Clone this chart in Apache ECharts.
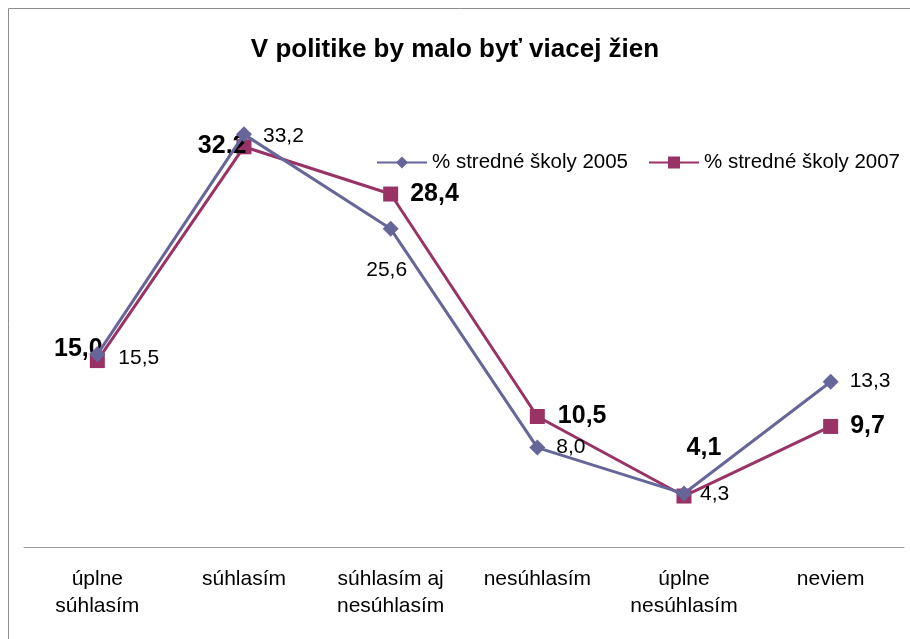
<!DOCTYPE html>
<html>
<head>
<meta charset="utf-8">
<script src="https://cdn.jsdelivr.net/npm/echarts@6/dist/echarts.min.js"></script>
<style>
  html, body { margin: 0; padding: 0; background: #fff; }
  #chart { width: 910px; height: 639px; }
</style>
</head>
<body>
<div id="chart"></div>
<script>
// data
var categories = ['úplne\nsúhlasím', 'súhlasím', 'súhlasím aj\nnesúhlasím', 'nesúhlasím', 'úplne\nnesúhlasím', 'neviem']
var seriesNames = ['% stredné školy 2005', '% stredné školy 2007']
var values2005 = [15.5, 33.2, 25.6, 8.0, 4.3, 13.3]
var values2007 = [15.0, 32.2, 28.4, 10.5, 4.1, 9.7]

// label placement per point (style, not data)
var pos2005 = [['right', [8, 4]], ['right', [6, 2]], ['bottom', [-4, 18]], ['right', [6, 0]], ['right', [3, 1]], ['right', [6, 0]]]
var pos2007 = [['top', [-19, 14]], ['left', [15, -1]], ['right', [7, 0]], ['right', [8, 0]], ['top', [20, -23]], ['right', [7, 0]]]

var fmt = function (p) { return p.value.toFixed(1).replace('.', ',') }

function buildData (vals, pos) {
  return vals.map(function (v, i) {
    return { value: v, label: { position: pos[i][0], offset: pos[i][1] } }
  })
}

var font = "'Liberation Sans', Arial, sans-serif"
var dom = echarts.init(document.getElementById('chart'))
dom.setOption({
  animation: false,
  textStyle: { fontFamily: font },
  title: {
    text: 'V politike by malo byť viacej žien',
    left: 'center',
    top: 32,
    textStyle: { fontSize: 26, fontWeight: 'bold', color: '#000', fontFamily: font }
  },
  graphic: [{
    type: 'rect',
    shape: { x: 8.5, y: 8.5, width: 920, height: 650 },
    style: { fill: 'none', stroke: '#8c8c8c', lineWidth: 1 },
    silent: true
  }],
  legend: {
    top: 152,
    left: 376,
    width: 534,
    padding: 0,
    itemGap: 20,
    itemWidth: 50,
    itemHeight: 15,
    textStyle: { fontSize: 20.5, color: '#000', fontFamily: font },
    data: seriesNames
  },
  grid: { left: 24, right: 6, top: 112, bottom: 92, containLabel: false },
  xAxis: {
    type: 'category',
    data: categories,
    boundaryGap: true,
    axisLine: { lineStyle: { color: '#9a9a9a', width: 1 } },
    axisTick: { show: false },
    axisLabel: { fontSize: 21, color: '#000', fontFamily: font, lineHeight: 27, margin: 19 }
  },
  yAxis: {
    type: 'value',
    min: 0,
    max: 35,
    show: false,
    splitLine: { show: false }
  },
  series: [
    {
      name: seriesNames[0],
      type: 'line',
      data: buildData(values2005, pos2005),
      symbol: 'diamond',
      symbolSize: 16,
      z: 3,
      lineStyle: { color: '#666699', width: 3 },
      itemStyle: { color: '#666699' },
      label: { show: true, formatter: fmt, fontSize: 21, color: '#000', fontFamily: font, distance: 5 }
    },
    {
      name: seriesNames[1],
      type: 'line',
      data: buildData(values2007, pos2007),
      symbol: 'rect',
      symbolSize: 15,
      z: 2,
      lineStyle: { color: '#993366', width: 3 },
      itemStyle: { color: '#993366' },
      label: { show: true, formatter: fmt, fontSize: 25, fontWeight: 'bold', color: '#000', fontFamily: font, distance: 5 }
    }
  ]
})
</script>
</body>
</html>
